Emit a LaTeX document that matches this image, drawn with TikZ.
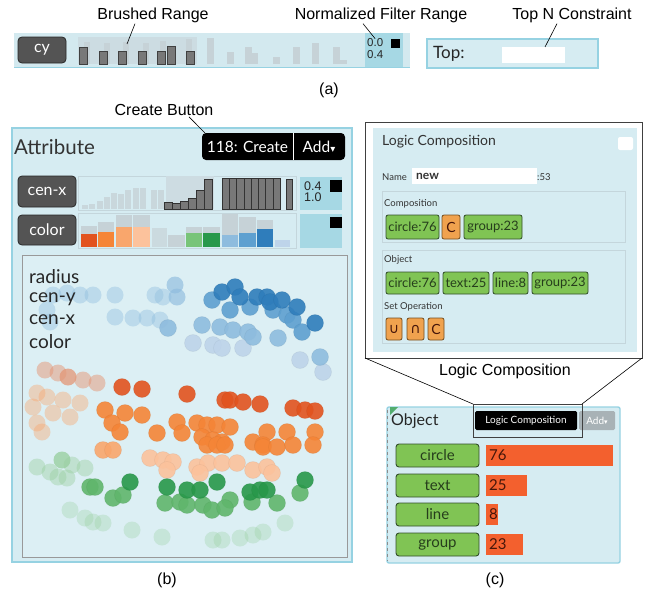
\documentclass[tikz,border=0pt]{standalone}
\usepackage{fontspec}
\setmainfont{Liberation Sans}
\newfontfamily\uifont{Lato}
\newfontfamily\glyphfont{DejaVu Sans}

% interface colours
\definecolor{panelbg}{RGB}{214,236,242}
\definecolor{plotbg}{RGB}{220,239,244}
\definecolor{panelglow}{RGB}{150,210,226}
\definecolor{bandbg}{RGB}{211,233,239}
\definecolor{tealbox}{RGB}{166,216,228}
\definecolor{btngray}{RGB}{84,84,84}
\definecolor{btnedge}{RGB}{40,40,40}
\definecolor{barbrush}{RGB}{120,120,120}
\definecolor{barfaint}{RGB}{198,210,215}
\definecolor{histframe}{RGB}{196,214,220}
\definecolor{chipgreen}{RGB}{128,196,84}
\definecolor{chipedge}{RGB}{50,78,42}
\definecolor{chiporange}{RGB}{240,162,78}
\definecolor{chiporedge}{RGB}{118,78,30}
\definecolor{countbar}{RGB}{243,96,46}
\definecolor{counttext}{RGB}{70,22,10}
\definecolor{chiptext}{RGB}{38,62,28}
\definecolor{addgray}{RGB}{168,178,182}
% data colours
\definecolor{oDark}{RGB}{226,83,31}
\definecolor{oMid}{RGB}{245,133,55}
\definecolor{oLight}{RGB}{249,166,108}
\definecolor{oPeach}{RGB}{252,194,156}
\definecolor{oSalmon}{RGB}{228,150,118}
\definecolor{gDark}{RGB}{40,152,74}
\definecolor{gMid}{RGB}{96,182,108}
\definecolor{gLight}{RGB}{120,196,120}
\definecolor{gFaint}{RGB}{150,206,156}
\definecolor{bDark}{RGB}{47,125,187}
\definecolor{bMid}{RGB}{94,160,208}
\definecolor{bLight}{RGB}{142,188,222}
\definecolor{bPale}{RGB}{190,212,234}

\tikzset{
  box/.style={inner sep=0pt, outer sep=0pt, anchor=north west},
  callout/.style={font=\fontsize{16}{16}\selectfont, inner sep=1pt},
  leader/.style={line width=0.6pt, black},
  darkbtn/.style={box, anchor=center, fill=btngray, draw=btnedge, line width=0.8pt,
    rounded corners=4pt, text=white, font=\uifont\fontsize{16}{16}\selectfont},
  tealpanel/.style={box, fill=tealbox},
  blacksq/.style={box, fill=black},
  numtxt/.style={anchor=west, inner sep=0pt, font=\fontsize{11.5}{11.5}\selectfont, text=black!85},
  smalltxt/.style={anchor=west, inner sep=0pt, font=\uifont\fontsize{9.5}{9.5}\selectfont, text=black!80},
  chipg/.style={box, fill=chipgreen, draw=chipedge, line width=0.8pt, rounded corners=2pt,
    text=chiptext, font=\uifont\fontsize{13}{13}\selectfont},
  chipo/.style={box, fill=chiporange, draw=chiporedge, line width=0.8pt, rounded corners=2pt,
    text=counttext, font=\uifont\fontsize{13}{13}\selectfont},
  rowbtn/.style={box, fill=chipgreen, draw=chipedge, line width=0.9pt, rounded corners=3pt,
    text=chiptext, font=\uifont\fontsize{15}{15}\selectfont},
  countbox/.style={box, fill=countbar, text=counttext, font=\uifont\fontsize{15}{15}\selectfont},
  glowpanel/.style={box, fill=panelbg, draw=panelglow, line width=1.4pt},
  dot/.style={fill=#1, fill opacity=0.9, draw=#1!80!black, draw opacity=0.25, line width=0.5pt},
  fdot/.style={fill=#1, fill opacity=0.4},
}

\begin{document}
\begin{tikzpicture}[x=1pt, y=-1pt]
\useasboundingbox (0,0) rectangle (647,597);

% ---------------- (a) filter strip ----------------
\fill[bandbg] (14,33) rectangle (410,67);
\draw[panelglow, line width=0.6pt] (14,67) -- (410,67);
\fill[barfaint!55!bandbg] (78,37) rectangle (197,64);
\foreach \a/\t in {84/42,104/43,123/42,143/43,160/41,186/39}
  \fill[barfaint] (\a,\t) rectangle (\a+6,64);
\foreach \a/\t in {79/47,99/51,118/51,138/51,157/51,167/46,186/51}
  \draw[fill=barbrush, draw=black!75, line width=0.7pt] (\a,\t) rectangle (\a+8,64);
\foreach \a/\t in {207/38,227/52,245/47,251/53,273/57,293/47,312/43,333/47,340/60}
  \fill[barfaint] (\a,\t) rectangle (\a+7,64);
\node[darkbtn, minimum width=48, minimum height=26] (cyBtn) at (42,50) {cy};
\node[tealpanel, minimum width=38, minimum height=34] (rangeA) at (365,33) {};
\node[numtxt] (rangeAlo) at (367,43) {0.0};
\node[numtxt] (rangeAhi) at (367,55) {0.4};
\node[blacksq, minimum width=9, minimum height=9] (rangeAsq) at (391,39) {};

\node[glowpanel, line width=1.8pt, minimum width=171, minimum height=29] (topBox) at (427,39) {};
\node[anchor=west, inner sep=0pt, font=\uifont\fontsize{17}{17}\selectfont, text=black!85] (topLbl) at (433,54) {Top:};
\node[box, fill=white, minimum width=63, minimum height=16] (topInput) at (502,47) {};

\node[callout] (lblBrush) at (153,15) {Brushed Range};
\coordinate (brushTip) at (127,44);
\draw[leader] ([xshift=-18pt]lblBrush.south) -- (brushTip);
\node[callout] (lblNorm) at (381,15) {Normalized Filter Range};
\draw[leader] ([xshift=-18pt]lblNorm.south) -- (rangeAlo.north);
\node[callout] (lblTop) at (572,15) {Top N Constraint};
\draw[leader] ([xshift=-15pt]lblTop.south) -- ([xshift=43pt]topInput.north west);
\node[callout] (capA) at (329,90) {(a)};

% ---------------- (b) attribute panel ----------------
\node[glowpanel, line width=1.2pt, minimum width=340, minimum height=434] (attrPanel) at (12,128) {};
\node[anchor=west, inner sep=0pt, font=\uifont\fontsize{20.5}{20.5}\selectfont, text=black!80] (attrTitle) at (14,147) {Attribute};
\node[box, fill=black, rounded corners=4pt, minimum width=143, minimum height=27] (createBtn) at (202,133) {};
\draw[white, line width=0.8pt] (293,133) -- (293,160);
\node[font=\uifont\fontsize{15.5}{15.5}\selectfont, text=white] (createTxt) at (247.5,146.5) {118: Create};
\node[font=\uifont\fontsize{15.5}{15.5}\selectfont, text=white] (addTxt) at (319,146.5) {Add{\glyphfont\fontsize{10}{10}\selectfont ▾}};
\node[callout] (lblCreate) at (164,110) {Create Button};
\draw[leader] ([xshift=25pt]lblCreate.south) -- ([xshift=3pt]createBtn.north west);

% cen-x row
\node[darkbtn, minimum width=58, minimum height=31] (cenxBtn) at (47,191.5) {cen-x};
\node[box, draw=histframe, line width=0.6pt, minimum width=218, minimum height=34] (cenxHist) at (78,176) {};
\fill[barfaint!60!panelbg] (166,176) rectangle (214,209);
\foreach \a/\t in {82/205,89/204,97/201,104/197,111/193,118/194,125/190,133/188,140/188,151/190,158/190}
  \fill[barfaint!80!panelbg] (\a,\t) rectangle (\a+6,209);
\foreach \a/\t in {164/202,172/203,180/201,188/198,196/190,204/179}
  \draw[fill=barbrush, draw=black!80, line width=0.7pt] (\a,\t) rectangle (\a+8,209);
\foreach \a in {222,229.3,236.6,243.9,251.2,258.5,265.8,273.1}
  \draw[fill=barbrush, draw=black!80, line width=0.7pt] (\a,178) rectangle (\a+7.3,209);
\draw[fill=barbrush, draw=black!80, line width=0.7pt] (286,179) rectangle (292,209);
\node[tealpanel, minimum width=42, minimum height=33] (cenxRange) at (300,177) {};
\node[numtxt, font=\fontsize{12.5}{12.5}\selectfont] (cenxLo) at (304,186) {0.4};
\node[numtxt, font=\fontsize{12.5}{12.5}\selectfont] (cenxHi) at (304,197) {1.0};
\node[blacksq, minimum width=12, minimum height=12] (cenxSq) at (330,180) {};

% color row
\node[darkbtn, minimum width=58, minimum height=30] (colorBtn) at (47,230) {color};
\node[box, draw=histframe, line width=0.6pt, minimum width=218, minimum height=35] (colorHist) at (78,213) {};
\foreach \a/\b/\g/\c/\col in {81/97/226/234/oDark, 98/114/222/232/oMid, 116/132/215/227/oLight,
    133/150/215/227/oPeach, 186/202/227/233/gLight, 203/220/227/233/gDark,
    222/238/214/235/bLight, 239/256/217/233/bMid, 257/273/220/229/bDark, 275/290/240/240/bPale}{
  \fill[barfaint] (\a,\g) rectangle (\b,\c);
  \fill[\col] (\a,\c) rectangle (\b,247);
}
\fill[barfaint!70!panelbg] (152,228) rectangle (167,247);
\fill[barfaint] (168,235) rectangle (185,247);
\node[tealpanel, minimum width=42, minimum height=34] (colorRange) at (300,214) {};
\node[blacksq, minimum width=12, minimum height=11] (colorSq) at (330,217) {};

% scatter plot
\node[box, fill=plotbg, draw=black!40, line width=0.8pt, minimum width=325, minimum height=302] (plot) at (22,255) {};
\begin{scope}
\clip (23,256) rectangle (346,556);
% blue group
\foreach \x/\y in {53/295,67/293,80/295,93/295,115/295,155/295,163/297,47/310,50/322,115/317,133/318,147/318,160/320}
  \fill[fdot=bLight] (\x,\y) circle[radius=8.5pt];
\foreach \x/\y in {175/285,177/297}
  \fill[bLight, fill opacity=0.65] (\x,\y) circle[radius=8.5pt];
\foreach \x/\y in {193/343,213/345,222/348,243/348,300/360,323/372}
  \filldraw[dot=bPale] (\x,\y) circle[radius=8.5pt];
\foreach \x/\y in {168/328,202/325,220/327,233/330,248/332,253/337,278/338,320/357}
  \filldraw[dot=bLight] (\x,\y) circle[radius=8.5pt];
\foreach \x/\y in {212/300,230/310,250/307,273/310,287/315,293/320,302/332}
  \filldraw[dot=bMid] (\x,\y) circle[radius=8.5pt];
\foreach \x/\y in {222/292,235/287,240/297,257/297,267/297,270/302,282/300,297/307,315/323}
  \filldraw[dot=bDark] (\x,\y) circle[radius=8.5pt];
% orange group
\foreach \x/\y in {45/370,58/373,83/380,97/383}
  \fill[oSalmon, fill opacity=0.5] (\x,\y) circle[radius=8.5pt];
\fill[oSalmon, fill opacity=0.75] (68,377) circle[radius=8.5pt];
\foreach \x/\y in {37/393,47/397,63/400,80/403,33/407,53/413,70/417,37/423,42/432}
  \fill[fdot=oLight] (\x,\y) circle[radius=8.5pt];
\foreach \x/\y in {122/387,142/389,187/394,225/400,230/400,243/402,260/404,293/408,305/410,315/411}
  \filldraw[dot=oDark] (\x,\y) circle[radius=8.5pt];
\foreach \x/\y in {105/410,125/413,142/415,112/423,120/432,177/422,197/423,207/425,217/425,230/427,267/432,287/432,315/432,157/433,182/433,202/437,213/440,222/442,253/442,263/445,207/445,217/445,225/445,263/447,277/447,293/445,313/445}
  \filldraw[dot=oMid] (\x,\y) circle[radius=8.5pt];
\foreach \x/\y in {103/450,113/450}
  \filldraw[dot=oLight] (\x,\y) circle[radius=8.5pt];
\foreach \x/\y in {150/458,163/460,173/462,197/467,208/463,222/463,237/463,253/470,267/467,272/473,200/473,167/470}
  \filldraw[dot=oPeach] (\x,\y) circle[radius=8.5pt];
% green group
\foreach \x/\y in {37/467,50/472,72/465,85/468,58/477,67/478}
  \fill[fdot=gFaint] (\x,\y) circle[radius=8.5pt];
\fill[gFaint, fill opacity=0.75] (62,460) circle[radius=8.5pt];
\foreach \x/\y in {70/510,85/518,93/522,103/523,132/530,162/537,213/540,222/540,240/538,253/535,263/532,285/523}
  \fill[gFaint, fill opacity=0.3] (\x,\y) circle[radius=8.5pt];
\foreach \x/\y in {90/487,95/487,113/498,123/495,165/503,180/502,187/505,203/505,212/510,230/500,225/508,252/502,277/503,300/493}
  \filldraw[dot=gMid] (\x,\y) circle[radius=8.5pt];
\foreach \x/\y in {130/482,167/487,187/490,200/490,217/482,250/492,260/490,267/490,305/480}
  \filldraw[dot=gDark] (\x,\y) circle[radius=8.5pt];
\end{scope}
\foreach \n/\t/\y in {encR/radius/277, encY/cen-y/299, encX/cen-x/320, encC/color/342}
  \node[anchor=west, inner sep=0pt, font=\uifont\fontsize{19}{19}\selectfont, text=black!85] (\n) at (29,\y) {\t};
\node[callout] (capB) at (167,580) {(b)};

% ---------------- (c) logic composition ----------------
\node[box, fill=white, draw=black!75, line width=0.8pt, minimum width=277, minimum height=236] (lcFrame) at (365,122) {};
\node[box, fill=panelbg, minimum width=264, minimum height=224] (lcPanel) at (373,128) {};
\node[anchor=west, inner sep=0pt, font=\uifont\fontsize{14}{14}\selectfont, text=black!80] (lcTitle) at (382,142) {Logic Composition};
\node[box, fill=white, rounded corners=2pt, minimum width=15, minimum height=13] (lcCheck) at (618,137) {};
\node[smalltxt] (nameLbl) at (382,177) {Name};
\node[box, fill=white, minimum width=125, minimum height=16] (nameInput) at (412,168) {};
\node[anchor=west, inner sep=0pt, font=\uifont\bfseries\fontsize{12}{12}\selectfont, text=black!80] (nameVal) at (416,176) {new};
\node[smalltxt] (nameCount) at (537,177) {:53};

\node[box, draw=histframe, line width=0.6pt, minimum width=243, minimum height=51] (compBox) at (382,191) {};
\node[smalltxt] (compLbl) at (384,204) {Composition};
\node[chipg, minimum width=53, minimum height=24] (compA) at (386,215) {circle:76};
\node[chipo, minimum width=18, minimum height=24, font=\uifont\fontsize{14}{14}\selectfont] (compOp) at (442,215) {C};
\node[chipg, minimum width=58, minimum height=24] (compB) at (464,215) {group:23};

\node[box, draw=histframe, line width=0.6pt, minimum width=243, minimum height=93] (objBox) at (382,250) {};
\node[smalltxt] (objLbl) at (384,260) {Object};
\node[chipg, minimum width=53, minimum height=22] (objA) at (386,272) {circle:76};
\node[chipg, minimum width=46, minimum height=22] (objB) at (443,272) {text:25};
\node[chipg, minimum width=35, minimum height=22] (objC) at (493,272) {line:8};
\node[chipg, minimum width=56, minimum height=22] (objD) at (532,272) {group:23};
\node[smalltxt] (setLbl) at (384,307) {Set Operation};
\node[chipo, minimum width=16, minimum height=22, font=\glyphfont\fontsize{14}{14}\selectfont] (opUnion) at (386,318) {∪};
\node[chipo, minimum width=17, minimum height=22, font=\glyphfont\fontsize{14}{14}\selectfont] (opInter) at (407,318) {∩};
\node[chipo, minimum width=16, minimum height=22, font=\uifont\fontsize{14}{14}\selectfont] (opDiff) at (428,318) {C};

\node[callout] (lblLogic) at (505,371) {Logic Composition};

% object panel
\node[glowpanel, rounded corners=2pt, minimum width=233, minimum height=156] (objPanel) at (387,407) {};
\draw[black!45, dashed, line width=0.6pt] (387,410) -- (387,561);
\fill[gDark!80] (390,407) -- (398,407) -- (390,415) -- cycle;
\node[anchor=west, inner sep=0pt, font=\uifont\fontsize{16}{16}\selectfont, text=black!85] (objTitle) at (391,421) {Object};
\node[box, fill=black, rounded corners=1.5pt, minimum width=102, minimum height=19, text=white,
  font=\uifont\fontsize{10}{10}\selectfont] (logicBtn) at (475,411) {Logic Composition};
\node[box, fill=addgray, rounded corners=1.5pt, minimum width=36, minimum height=19, text=white,
  font=\uifont\fontsize{10}{10}\selectfont] (addBtn) at (579,411) {Add{\glyphfont\fontsize{7}{7}\selectfont ▾}};
\node[box, draw=black!75, line width=0.8pt, minimum width=109, minimum height=33] (logicHl) at (473,404) {};
\draw[leader] (lcFrame.south west) -- (logicHl.north west);
\draw[leader] (lcFrame.south east) -- (logicHl.north east);

\foreach \n/\t/\c/\w/\y in {rowCircle/circle/76/127/444, rowText/text/25/41/474, rowLine/line/8/12/503, rowGroup/group/23/37/533}{
  \node[rowbtn, minimum width=83, minimum height=23] (\n) at (396,\y) {\t};
  \node[countbox, minimum width=\w, minimum height=21] (\n Bar) at (486,\y+0.5) {};
  \node[anchor=west, inner sep=0pt, font=\uifont\fontsize{15}{15}\selectfont, text=counttext] (\n Num) at (489,\y+11.5) {\c};
}
\node[callout] (capC) at (495,580) {(c)};
\end{tikzpicture}
\end{document}
